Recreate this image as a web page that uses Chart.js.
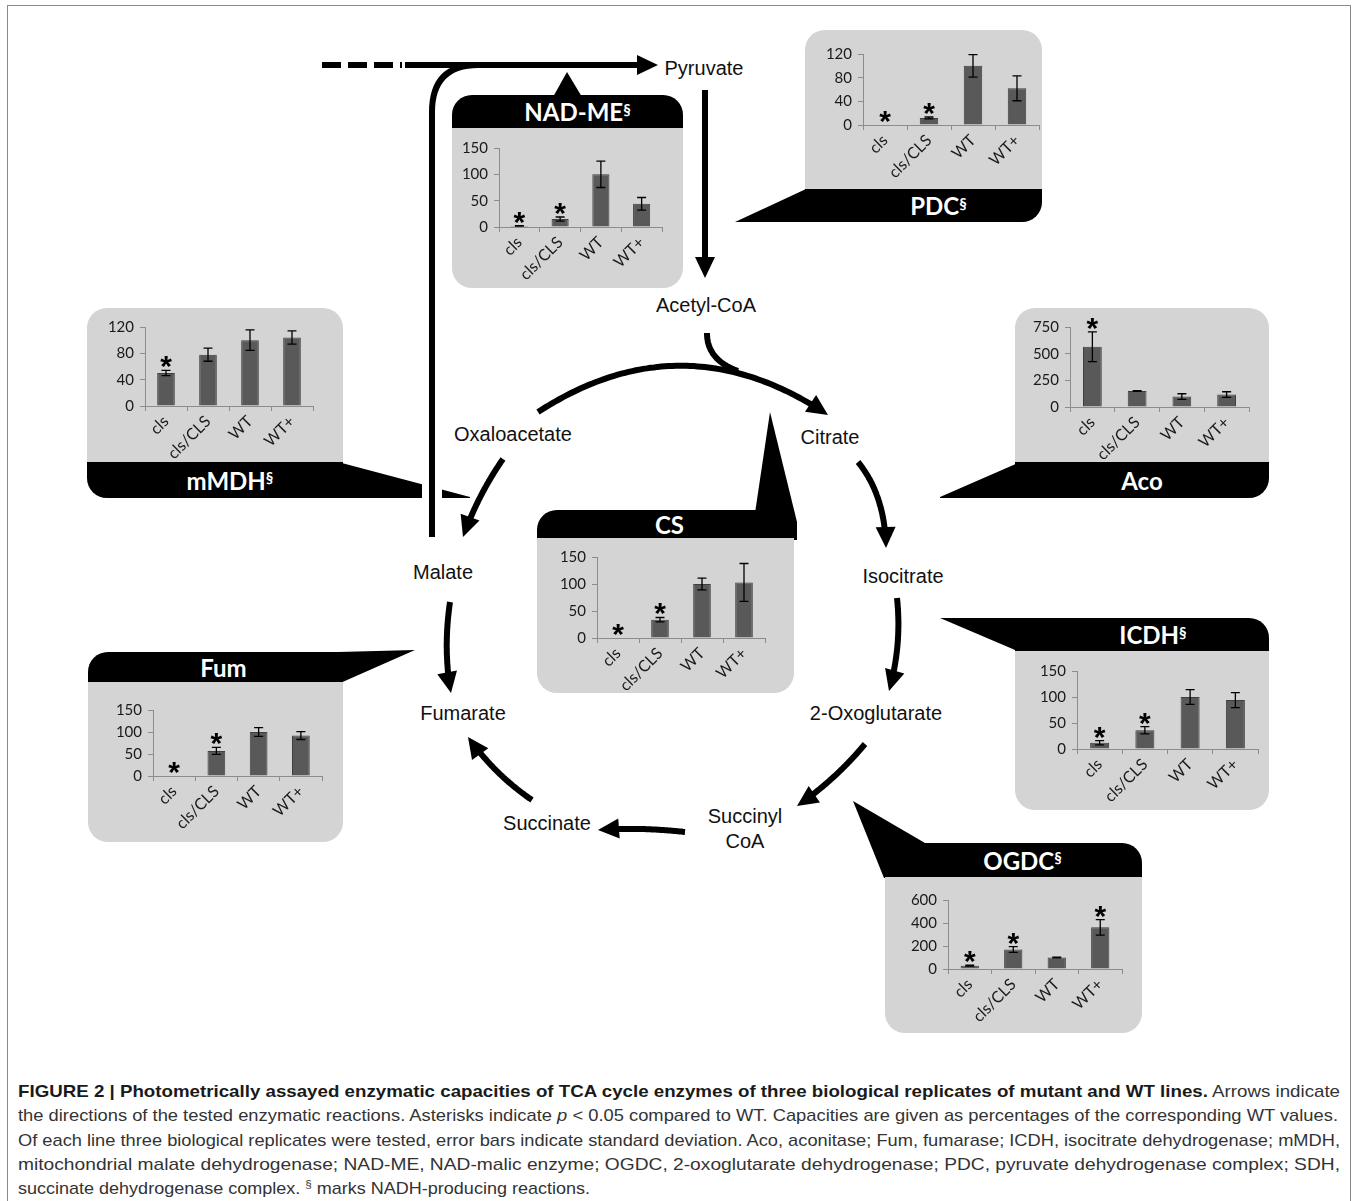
<!DOCTYPE html>
<html>
<head>
<meta charset="utf-8">
<title>TCA cycle enzyme capacities</title>
<script src="https://cdn.jsdelivr.net/npm/chart.js@4.4.1/dist/chart.umd.min.js"></script>
<style>
  body { margin: 0; background: #fff; }
  #fig { position: relative; width: 1358px; height: 1201px; overflow: hidden; background: #fff; }
  #dia { position: absolute; left: 0; top: 0; }
  .panel { position: absolute; background: #d4d4d4; overflow: hidden; }
  .tab { position: absolute; left: 0; right: 0; background: #000; color: #fff;
         font: 700 24px Lato, sans-serif; display: flex; align-items: center; justify-content: center; }
  .tab sup { font-size: 15px; position: relative; top: -3px; vertical-align: top; }
  .chart { position: absolute; }
</style>
</head>
<body>
<div id="fig">
  <svg id="dia" width="1358" height="1201" xmlns="http://www.w3.org/2000/svg"></svg>
</div>

<script>
// genotypes on every x axis
const lines = ['cls', 'cls/CLS', 'WT', 'WT+'];

// capacities in % of WT, standard deviation, significance (asterisk)
const pdcTicks = [0, 40, 80, 120];
const pdcMean = [0, 12, 100, 62];
const pdcSd = [0, 1.5, 19, 21];
const pdcSig = [1, 1, 0, 0];

const nadmeTicks = [0, 50, 100, 150];
const nadmeMean = [2, 15, 100, 44];
const nadmeSd = [0.5, 4, 25, 12];
const nadmeSig = [1, 1, 0, 0];

const mmdhTicks = [0, 40, 80, 120];
const mmdhMean = [50, 78, 100, 104];
const mmdhSd = [4, 10, 15.5, 10];
const mmdhSig = [1, 0, 0, 0];

const acoTicks = [0, 250, 500, 750];
const acoMean = [565, 150, 98, 117];
const acoSd = [140, 4, 26, 26];
const acoSig = [1, 0, 0, 0];

const csTicks = [0, 50, 100, 150];
const csMean = [0, 34, 100, 103];
const csSd = [0, 4, 11, 35];
const csSig = [1, 1, 0, 0];

const fumTicks = [0, 50, 100, 150];
const fumMean = [0, 57, 100, 92];
const fumSd = [0, 8, 10, 9];
const fumSig = [1, 1, 0, 0];

const icdhTicks = [0, 50, 100, 150];
const icdhMean = [12, 36, 100, 94];
const icdhSd = [4, 7, 14, 14.5];
const icdhSig = [1, 1, 0, 0];

const ogdcTicks = [0, 200, 400, 600];
const ogdcMean = [29, 169, 100, 362];
const ogdcSd = [4, 25, 3, 67];
const ogdcSig = [1, 1, 0, 1];

// panel layout: box = [x, y, w, h] incl. black tab, area = plot area [left, top, right, bottom]
const panels = [
  { title: 'PDC', sup: true, box: [805, 30, 237, 192], tabH: 33, tabTop: false, radius: '20px 20px 20px 0', dx: 15,
    area: [863, 53, 1039, 125], ticks: pdcTicks, mean: pdcMean, sd: pdcSd, sig: pdcSig },
  { title: 'NAD-ME', sup: true, box: [452, 95, 231, 193], tabH: 33, tabTop: true, radius: '20px', dx: 10,
    area: [499, 147, 662, 227], ticks: nadmeTicks, mean: nadmeMean, sd: nadmeSd, sig: nadmeSig },
  { title: 'mMDH', sup: true, box: [87, 308, 256, 190], tabH: 36, tabTop: false, radius: '20px 20px 0 20px', dx: 15,
    area: [145, 326, 313, 406], ticks: mmdhTicks, mean: mmdhMean, sd: mmdhSd, sig: mmdhSig },
  { title: 'Aco', sup: false, box: [1015, 308, 254, 190], tabH: 36, tabTop: false, radius: '20px 20px 20px 0', dx: -2,
    area: [1070, 326, 1249, 407], ticks: acoTicks, mean: acoMean, sd: acoSd, sig: acoSig },
  { title: 'CS', sup: false, box: [537, 510, 257, 183], tabH: 28, tabTop: true, radius: '20px 0 20px 20px', dx: 4,
    area: [597, 556, 765, 638], ticks: csTicks, mean: csMean, sd: csSd, sig: csSig },
  { title: 'Fum', sup: false, box: [88, 652, 255, 190], tabH: 30, tabTop: true, radius: '20px 0 20px 20px', dx: 8,
    area: [153, 709, 322, 776], ticks: fumTicks, mean: fumMean, sd: fumSd, sig: fumSig },
  { title: 'ICDH', sup: true, box: [1015, 618, 254, 192], tabH: 33, tabTop: true, radius: '0 20px 20px 20px', dx: 11,
    area: [1077, 670, 1258, 749], ticks: icdhTicks, mean: icdhMean, sd: icdhSd, sig: icdhSig },
  { title: 'OGDC', sup: true, box: [885, 843, 257, 190], tabH: 34, tabTop: true, radius: '0 20px 20px 20px', dx: 9,
    area: [948, 899, 1122, 969], ticks: ogdcTicks, mean: ogdcMean, sd: ogdcSd, sig: ogdcSig }
];

// ---------- diagram (arrows, pointers, metabolite names) ----------
const NS = 'http://www.w3.org/2000/svg';
const svg = document.getElementById('dia');
function el(tag, attrs, text) {
  const e = document.createElementNS(NS, tag);
  for (const k in attrs) e.setAttribute(k, attrs[k]);
  if (text !== undefined) e.textContent = text;
  svg.appendChild(e);
  return e;
}

function arrow(s, c, e, head = true) {
  const pts = [];
  for (let i = 0; i <= 80; i++) {
    const t = i / 80;
    pts.push([(1 - t) * (1 - t) * s[0] + 2 * (1 - t) * t * c[0] + t * t * e[0],
              (1 - t) * (1 - t) * s[1] + 2 * (1 - t) * t * c[1] + t * t * e[1]]);
  }
  const keep = head ? pts.filter(p => Math.hypot(p[0] - e[0], p[1] - e[1]) > 12) : pts;
  el('polyline', { points: keep.map(p => p[0].toFixed(1) + ',' + p[1].toFixed(1)).join(' '),
                   fill: 'none', stroke: '#000', 'stroke-width': 6 });
  if (head) {
    let dx = e[0] - c[0], dy = e[1] - c[1];
    const L = Math.hypot(dx, dy); dx /= L; dy /= L;
    const bx = e[0] - dx * 21, by = e[1] - dy * 21;
    el('polygon', { points: `${e[0]},${e[1]} ${bx - dy * 10},${by + dx * 10} ${bx + dy * 10},${by - dx * 10}`, fill: '#000' });
  }
}

// figure frame
el('rect', { x: 7.5, y: 5.5, width: 1343, height: 1300, fill: 'none', stroke: '#8a8a8a', 'stroke-width': 1 });

// pointers from the enzyme panels
el('polygon', { points: '735,222 806,189 812,189 812,222', fill: '#000' });          // PDC
el('polygon', { points: '567,72 553,97 582,97', fill: '#000' });                     // NAD-ME
el('polygon', { points: '338,462 470,497 470,498 338,498', fill: '#000' });          // mMDH
el('polygon', { points: '1020,462 940,497 940,498 1020,498', fill: '#000' });        // Aco
el('polygon', { points: '770,412 797,522 797,540 751,540', fill: '#000' });          // CS
el('polygon', { points: '338,652 415,650 338,684', fill: '#000' });                  // Fum
el('polygon', { points: '940,618 1020,618 1020,652', fill: '#000' });                // ICDH
el('polygon', { points: '853,801 925,843 925,878 884,878', fill: '#000' });          // OGDC

// malate -> pyruvate (NAD-ME) and glycolysis input
el('line', { x1: 432, y1: 455, x2: 432, y2: 505, stroke: '#fff', 'stroke-width': 20 });
el('path', { d: 'M432 537 L432 112 Q432 65 478 65 L640 65', fill: 'none', stroke: '#000', 'stroke-width': 6 });
el('line', { x1: 405, y1: 65, x2: 480, y2: 65, stroke: '#000', 'stroke-width': 6 });
el('line', { x1: 322, y1: 65, x2: 402, y2: 65, stroke: '#000', 'stroke-width': 6, 'stroke-dasharray': '19 7' });
el('polygon', { points: '658,65 637,55 637,75', fill: '#000' });

// pyruvate -> acetyl-CoA
arrow([705, 90], [705, 180], [705, 278]);
// acetyl-CoA joining citrate synthase
arrow([707, 333], [707, 360], [738, 371], false);

// TCA cycle
arrow([538, 412], [683, 318], [828, 415]);
arrow([858, 462], [885, 495], [886, 548]);
arrow([897, 598], [902, 645], [889, 691]);
arrow([865, 744], [835, 780], [797, 806]);
arrow([685, 832], [640, 827], [598, 830]);
arrow([532, 800], [495, 775], [468, 737]);
arrow([450, 602], [443, 650], [451, 693]);
arrow([503, 459], [478, 495], [463, 537]);

const names = [
  ['Pyruvate', 704, 68], ['Acetyl-CoA', 706, 305], ['Oxaloacetate', 513, 434], ['Citrate', 830, 437],
  ['Malate', 443, 572], ['Isocitrate', 903, 576], ['Fumarate', 463, 713], ['2-Oxoglutarate', 876, 713],
  ['Succinate', 547, 823], ['Succinyl', 745, 816], ['CoA', 745, 841]
];
names.forEach(n => el('text', { x: n[1], y: n[2], 'text-anchor': 'middle', 'dominant-baseline': 'central',
  'font-family': 'Liberation Sans, Arial, sans-serif', 'font-size': 20, fill: '#111' }, n[0]));

// caption
function capLine(y, parts, fit) {
  const t = el('text', { x: 18, y: y, 'font-family': 'Liberation Sans, Arial, sans-serif', 'font-size': 17, fill: '#333' });
  if (fit) { t.setAttribute('textLength', fit); t.setAttribute('lengthAdjust', 'spacingAndGlyphs'); }
  parts.forEach(p => {
    const s = document.createElementNS(NS, 'tspan');
    if (p.b) { s.setAttribute('font-weight', 'bold'); s.setAttribute('fill', '#1a1a1a'); }
    if (p.i) s.setAttribute('font-style', 'italic');
    if (p.sup) { s.setAttribute('font-size', 11); s.setAttribute('dy', -6); }
    if (p.down) s.setAttribute('dy', 6);
    s.textContent = p.t;
    t.appendChild(s);
  });
}
capLine(1097, [{ t: 'FIGURE 2 | Photometrically assayed enzymatic capacities of TCA cycle enzymes of three biological replicates of mutant and WT lines.', b: 1 },
               { t: ' Arrows indicate' }], 1322);
capLine(1121, [{ t: 'the directions of the tested enzymatic reactions. Asterisks indicate ' }, { t: 'p', i: 1 },
               { t: ' < 0.05 compared to WT. Capacities are given as percentages of the corresponding WT values.' }], 1320);
capLine(1146, [{ t: 'Of each line three biological replicates were tested, error bars indicate standard deviation. Aco, aconitase; Fum, fumarase; ICDH, isocitrate dehydrogenase; mMDH,' }], 1322);
capLine(1170, [{ t: 'mitochondrial malate dehydrogenase; NAD-ME, NAD-malic enzyme; OGDC, 2-oxoglutarate dehydrogenase; PDC, pyruvate dehydrogenase complex; SDH,' }], 1322);
capLine(1194, [{ t: 'succinate dehydrogenase complex. ' }, { t: '§', sup: 1 }, { t: ' marks NADH-producing reactions.', down: 1 }], 572);

// ---------- bar charts ----------
const errorBars = {
  id: 'errorBars',
  afterDatasetsDraw(chart) {
    const ctx = chart.ctx, y = chart.scales.y;
    const ds = chart.data.datasets[0];
    const meta = chart.getDatasetMeta(0);
    ctx.save();
    meta.data.forEach((bar, i) => {
      const m = ds.data[i], s = ds.sd[i];
      let top = y.getPixelForValue(m);
      if (s > 0) {
        const yt = y.getPixelForValue(m + s), yb = y.getPixelForValue(m - s);
        ctx.strokeStyle = '#000';
        ctx.lineWidth = 1.3;
        ctx.beginPath();
        ctx.moveTo(bar.x, yt); ctx.lineTo(bar.x, yb);
        ctx.moveTo(bar.x - 4.5, yt); ctx.lineTo(bar.x + 4.5, yt);
        ctx.moveTo(bar.x - 4.5, yb); ctx.lineTo(bar.x + 4.5, yb);
        ctx.stroke();
        top = yt;
      }
      if (ds.sig[i]) {
        ctx.fillStyle = '#000';
        ctx.font = 'bold 30px "Liberation Sans"';
        ctx.textAlign = 'center';
        ctx.textBaseline = 'alphabetic';
        ctx.fillText('*', bar.x, top - 11 + 17);
      }
    });
    ctx.restore();
  }
};

const fig = document.getElementById('fig');

panels.forEach(p => {
  const [bx, by, bw, bh] = p.box;
  const div = document.createElement('div');
  div.className = 'panel';
  Object.assign(div.style, { left: bx + 'px', top: by + 'px', width: bw + 'px', height: bh + 'px', borderRadius: p.radius });
  const tab = document.createElement('div');
  tab.className = 'tab';
  tab.style.height = p.tabH + 'px';
  tab.style[p.tabTop ? 'top' : 'bottom'] = '0';
  tab.style.paddingLeft = (2 * p.dx) + 'px';
  tab.innerHTML = p.title + (p.sup ? '<sup>§</sup>' : '');
  div.appendChild(tab);
  fig.appendChild(div);

  const grayBot = p.tabTop ? by + bh : by + bh - p.tabH;
  const [L, T, R, B] = p.area;
  const cx = bx, cy = T - 14, cw = bw, ch = grayBot - cy;
  const cv = document.createElement('canvas');
  cv.className = 'chart';
  cv.width = cw; cv.height = ch;
  Object.assign(cv.style, { left: cx + 'px', top: cy + 'px', width: cw + 'px', height: ch + 'px' });
  fig.appendChild(cv);

  const axisCol = '#8c8c8c';
  new Chart(cv, {
    type: 'bar',
    data: {
      labels: lines,
      datasets: [{
        data: p.mean, sd: p.sd, sig: p.sig,
        backgroundColor: '#595959', borderColor: '#3f3f3f', borderWidth: 1,
        barPercentage: 0.42, categoryPercentage: 1
      }]
    },
    options: {
      responsive: false, animation: false, devicePixelRatio: 1,
      layout: { padding: { top: 14, left: 0, bottom: 0, right: cx + cw - R } },
      plugins: { legend: { display: false }, tooltip: { enabled: false } },
      scales: {
        x: {
          grid: { offset: true, drawOnChartArea: false, tickLength: 5, color: axisCol },
          border: { color: axisCol, width: 1 },
          ticks: { minRotation: 45, maxRotation: 45, padding: 1, color: '#1a1a1a', font: { family: 'Lato', size: 16 } },
          afterFit(s) { s.height = grayBot - B; }
        },
        y: {
          min: p.ticks[0], max: p.ticks[p.ticks.length - 1],
          afterBuildTicks(s) { s.ticks = p.ticks.map(v => ({ value: v })); },
          grid: { drawOnChartArea: false, tickLength: 5, color: axisCol },
          border: { color: axisCol, width: 1 },
          ticks: { padding: 6, color: '#1a1a1a', font: { family: 'Lato', size: 15 } },
          afterFit(s) { s.width = L - cx; }
        }
      }
    },
    plugins: [errorBars]
  });
});
</script>
</body>
</html>
